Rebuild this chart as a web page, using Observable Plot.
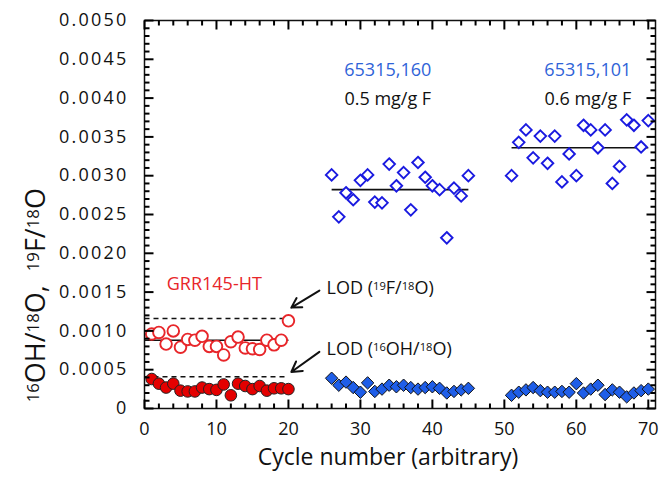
<!DOCTYPE html>
<html><head><meta charset="utf-8">
<script src="https://cdn.jsdelivr.net/npm/d3@7"></script>
<script src="https://cdn.jsdelivr.net/npm/@observablehq/plot@0.6"></script>
<style>
body{margin:0;background:#fff;overflow:hidden;}
#chart g[aria-label="y-axis tick label"] text{letter-spacing:2.2px;}
</style>
</head><body><div id="chart"></div>
<script>
// ---- data ----
const grrCycles = [1,2,3,4,5,6,7,8,9,10,11,12,13,14,15,16,17,18,19,20];
const grrF  = [0.00096,0.00098,0.00083,0.00100,0.00079,0.00089,0.00088,0.00093,0.00080,0.00080,0.00069,0.00086,0.00092,0.00078,0.00077,0.00076,0.00088,0.00082,0.00088,0.00113];
const grrOH = [0.00038,0.00032,0.00027,0.00032,0.00023,0.00022,0.00022,0.00027,0.00025,0.00024,0.00031,0.00017,0.00032,0.00029,0.00025,0.00029,0.00023,0.00026,0.00026,0.00025];

const s160Cycles = [26,27,28,29,30,31,32,33,34,35,36,37,38,39,40,41,42,43,44,45];
const s160F  = [0.00301,0.00247,0.00278,0.00269,0.00294,0.00301,0.00266,0.00265,0.00315,0.00287,0.00304,0.00256,0.00317,0.00298,0.00287,0.00282,0.00220,0.00284,0.00274,0.00300];
const s160OH = [0.00039,0.00030,0.00034,0.00027,0.00021,0.00033,0.00022,0.00025,0.00030,0.00028,0.00030,0.00027,0.00025,0.00027,0.00028,0.00026,0.00020,0.00022,0.00024,0.00026];

const s101Cycles = [51,52,53,54,55,56,57,58,59,60,61,62,63,64,65,66,67,68,69,70];
const s101F  = [0.00300,0.00343,0.00359,0.00323,0.00351,0.00316,0.00351,0.00292,0.00328,0.00300,0.00365,0.00359,0.00336,0.00359,0.00290,0.00312,0.00372,0.00365,0.00337,0.00371];
const s101OH = [0.00017,0.00021,0.00024,0.00027,0.00023,0.00021,0.00021,0.00022,0.00021,0.00032,0.00020,0.00025,0.00030,0.00018,0.00024,0.00021,0.00015,0.00020,0.00023,0.00025];

// mean values (solid lines) and detection limits (dashed lines)
const meanStart = [0, 26, 51];
const meanEnd   = [20, 45, 70];
const meanF     = [0.00088, 0.00282, 0.00336];
const lodLabels = ["LOD (^19F/^18O)", "LOD (^16OH/^18O)"];
const lodValues = [0.00116, 0.00041];
const lodRange  = [0, 20];

const sampleNames = ["65315,160", "65315,101"];
const sampleF     = ["0.5 mg/g F", "0.6 mg/g F"];
const refName     = "GRR145-HT";

const xMajorTicks = [0,10,20,30,40,50,60,70];
const yMajorTicks = [0,0.0005,0.0010,0.0015,0.0020,0.0025,0.0030,0.0035,0.0040,0.0045,0.0050];
const xLabel = "Cycle number (arbitrary)";
const yLabel = "^16OH/^18O,  ^19F/^18O";

// ---- layout ----
const WIDTH = 661, HEIGHT = 478, ML = 144, MR = 6, MT = 20, MB = 70;
const FW = WIDTH - ML - MR, FH = HEIGHT - MT - MB;
const XDOM = [0, 71], YDOM = [0, 0.005];
const xPerPx = (XDOM[1] - XDOM[0]) / FW, yPerPx = (YDOM[1] - YDOM[0]) / FH;

// ---- build tables ----
const zip = (xs, ys) => xs.map((x, i) => ({x, y: ys[i]}));
const grrFData = zip(grrCycles, grrF), grrOHData = zip(grrCycles, grrOH);
const s160FData = zip(s160Cycles, s160F), s160OHData = zip(s160Cycles, s160OH);
const s101FData = zip(s101Cycles, s101F), s101OHData = zip(s101Cycles, s101OH);
const meanData = meanF.map((y, i) => ({x1: meanStart[i], x2: meanEnd[i], y}));
const lodData = lodValues.map(y => ({x1: lodRange[0], x2: lodRange[1], y}));
const xMinorTicks = d3.range(0, 71, 2).filter(d => d % 10 !== 0);
const yMinorTicks = d3.range(0, 51).map(d => d / 10000).filter((d, i) => i % 5 !== 0);

// inward tick segments on all four sides (length given in pixels, converted to data units)
const tickSegs = [];
for (const [ticks, len] of [[xMinorTicks, 5], [xMajorTicks, 9]]) {
  for (const t of ticks) {
    tickSegs.push({x1: t, x2: t, y1: YDOM[0], y2: YDOM[0] + len * yPerPx});
    tickSegs.push({x1: t, x2: t, y1: YDOM[1], y2: YDOM[1] - len * yPerPx});
  }
}
for (const [ticks, len] of [[yMinorTicks, 5], [yMajorTicks, 9]]) {
  for (const t of ticks) {
    tickSegs.push({y1: t, y2: t, x1: XDOM[0], x2: XDOM[0] + len * xPerPx});
    tickSegs.push({y1: t, y2: t, x1: XDOM[1], x2: XDOM[1] - len * xPerPx});
  }
}

const RED = "#e8262a", BLUE_TXT = "#2f63d8", BLUE = "#1a1ae0", BLUE_FILL = "#1f5ee8";

const plot = Plot.plot({
  width: WIDTH, height: HEIGHT,
  marginLeft: ML, marginRight: MR, marginTop: MT, marginBottom: MB,
  x: {domain: XDOM},
  y: {domain: YDOM},
  style: {fontFamily: "Open Sans", fontSize: "17px", color: "#111"},
  marks: [
    Plot.axisX(xMajorTicks, {anchor: "bottom", tickSize: 0, tickPadding: 14, label: null, fontSize: 18}),
    Plot.axisY(yMajorTicks, {anchor: "left", tickSize: 0, tickPadding: 16, label: null, fontSize: 18,
      tickFormat: d => d === 0 ? "0" : d.toFixed(4)}),
    Plot.text([xLabel], {frameAnchor: "bottom", textAnchor: "middle", lineAnchor: "middle", dy: 49, dx: -12, fontSize: 23, fill: "#111"}),
    Plot.text([yLabel], {x: [0], y: [0.00146], textAnchor: "middle", lineAnchor: "middle", rotate: -90, dx: -108, fontSize: 27, fill: "#111"}),
    // LOD dashed lines
    Plot.link(lodData, {x1: "x1", x2: "x2", y1: "y", y2: "y", stroke: "#111", strokeWidth: 1.5, strokeDasharray: "5,4"}),
    // mean lines
    Plot.link(meanData, {x1: "x1", x2: "x2", y1: "y", y2: "y", stroke: "#111", strokeWidth: 1.6}),
    // points
    Plot.dot(grrFData, {x: "x", y: "y", r: 5.8, stroke: RED, strokeWidth: 1.9, fill: "white"}),
    Plot.dot(grrOHData, {x: "x", y: "y", r: 5.8, stroke: "#222", strokeWidth: 1, fill: "#e40000"}),
    Plot.dot(s160FData, {x: "x", y: "y", r: 5.2, symbol: "diamond2", stroke: BLUE, strokeWidth: 1.9, fill: "white"}),
    Plot.dot(s101FData, {x: "x", y: "y", r: 5.2, symbol: "diamond2", stroke: BLUE, strokeWidth: 1.9, fill: "white"}),
    Plot.dot(s160OHData, {x: "x", y: "y", r: 5.6, symbol: "diamond2", stroke: "#111", strokeWidth: 1, fill: BLUE_FILL}),
    Plot.dot(s101OHData, {x: "x", y: "y", r: 5.6, symbol: "diamond2", stroke: "#111", strokeWidth: 1, fill: BLUE_FILL}),
    // annotations
    Plot.text([refName], {x: [9.7], y: [0.00160], text: d => d, fill: RED, fontSize: 18}),
    Plot.text(sampleNames, {x: [33.8, 61.6], y: [0.00436, 0.00436], text: d => d, fill: BLUE_TXT, fontSize: 18}),
    Plot.text(sampleF, {x: [33.8, 61.6], y: [0.00399, 0.00399], text: d => d, fill: "#111", fontSize: 18}),
    Plot.text(lodLabels, {x: [25.3, 25.3], y: [0.00155, 0.00076], text: d => d, fill: "#111", fontSize: 18, textAnchor: "start"}),
    Plot.arrow(lodValues, {x1: [24.3, 24.3], y1: [0.00152, 0.00073], x2: [20.4, 20.4], y2: [0.00130, 0.00047],
      stroke: "#111", strokeWidth: 2, headLength: 9}),
    Plot.frame({stroke: "#111", strokeWidth: 1.5}),
    Plot.link(tickSegs, {x1: "x1", x2: "x2", y1: "y1", y2: "y2", stroke: "black", strokeWidth: 2})
  ]
});

// turn "^NN" markers into real superscript tspans
d3.select(plot).selectAll("text").each(function() {
  const t = this.textContent;
  if (!t.includes("^")) return;
  const sel = d3.select(this);
  sel.text(null);
  for (const part of t.split(/(\^\d+)/)) {
    if (!part) continue;
    if (part[0] === "^") sel.append("tspan").attr("baseline-shift", "38%").attr("font-size", "62%").text(part.slice(1));
    else sel.append("tspan").text(part);
  }
});
document.getElementById("chart").append(plot);
</script>
</body></html>
